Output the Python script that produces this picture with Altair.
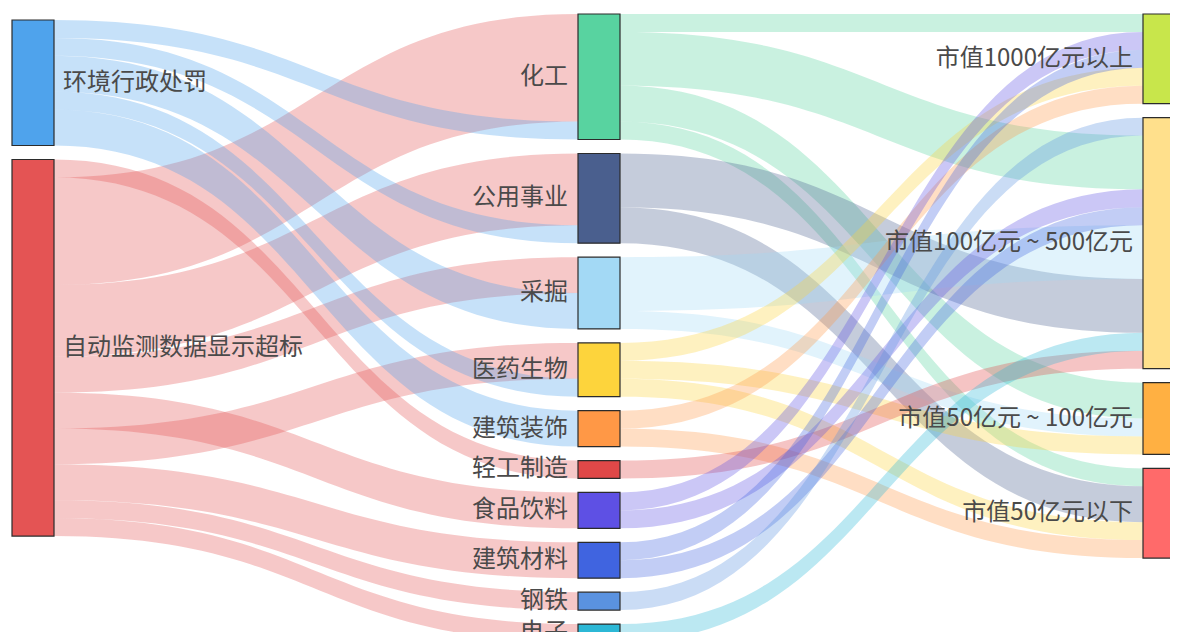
import altair as alt
import numpy as np
import pandas as pd

# ---------------- data ----------------
left_nodes = ["环境行政处罚", "自动监测数据显示超标"]
mid_nodes = ["化工", "公用事业", "采掘", "医药生物", "建筑装饰", "轻工制造",
             "食品饮料", "建筑材料", "钢铁", "电子"]
right_nodes = ["市值1000亿元以上", "市值100亿元 ~ 500亿元", "市值50亿元 ~ 100亿元", "市值50亿元以下"]

left_colors = ["#4fa3ec", "#e45454"]
mid_colors = ["#58d3a0", "#4a5f8e", "#a3d9f5", "#fdd43c", "#ff9846", "#e04848",
              "#5e50e4", "#4064e0", "#5a92e0", "#2cb8d6"]
right_colors = ["#c8e64b", "#ffe08c", "#ffb042", "#ff6a6a"]

# links (listed in the stacking order at each source node)
lm_source = ["自动监测数据显示超标"] * 9 + ["环境行政处罚"] * 5
lm_target = ["轻工制造", "化工", "公用事业", "采掘", "食品饮料", "医药生物", "建筑材料", "钢铁", "电子",
             "化工", "公用事业", "采掘", "医药生物", "建筑装饰"]
lm_value = [1, 6, 4, 2, 2, 2, 2, 1, 1,
            1, 1, 2, 1, 2]

mr_source = (["化工"] * 4 + ["公用事业"] * 2 + ["采掘"] * 2 + ["医药生物"] * 3 + ["建筑装饰"] * 2
             + ["轻工制造"] + ["食品饮料"] * 2 + ["建筑材料"] * 2 + ["钢铁"] + ["电子"])
mr_target = ["市值1000亿元以上", "市值100亿元 ~ 500亿元", "市值50亿元 ~ 100亿元", "市值50亿元以下",
             "市值100亿元 ~ 500亿元", "市值50亿元以下",
             "市值100亿元 ~ 500亿元", "市值50亿元 ~ 100亿元",
             "市值1000亿元以上", "市值50亿元 ~ 100亿元", "市值50亿元以下",
             "市值1000亿元以上", "市值50亿元以下",
             "市值100亿元 ~ 500亿元",
             "市值1000亿元以上", "市值100亿元 ~ 500亿元",
             "市值1000亿元以上", "市值100亿元 ~ 500亿元",
             "市值100亿元 ~ 500亿元",
             "市值100亿元 ~ 500亿元"]
mr_value = [1, 3, 2, 1,
            3, 2,
            3, 1,
            1, 1, 1,
            1, 1,
            1,
            1, 1,
            1, 1,
            1,
            1]

# stacking order of incoming links at each target (by source)
in_order = {n: ["自动监测数据显示超标", "环境行政处罚"] for n in mid_nodes}
in_order["市值1000亿元以上"] = ["化工", "食品饮料", "建筑材料", "医药生物", "建筑装饰"]
in_order["市值100亿元 ~ 500亿元"] = ["钢铁", "化工", "食品饮料", "建筑材料", "采掘", "公用事业", "电子", "轻工制造"]
in_order["市值50亿元 ~ 100亿元"] = ["化工", "采掘", "医药生物"]
in_order["市值50亿元以下"] = ["化工", "公用事业", "医药生物", "建筑装饰"]

# ---------------- layout (pixel space of the page) ----------------
W, H = 1162, 624
col_left = [12, 578, 1143]
col_top = [20, 14, 14]
node_w = 42
gap = 14
unit = 17.93

sources = lm_source + mr_source
targets = lm_target + mr_target
values = lm_value + mr_value
columns = [left_nodes, mid_nodes, right_nodes]
all_nodes = left_nodes + mid_nodes + right_nodes
all_colors = left_colors + mid_colors + right_colors

out_sum = {n: 0 for n in all_nodes}
in_sum = {n: 0 for n in all_nodes}
for s, t, v in zip(sources, targets, values):
    out_sum[s] += v
    in_sum[t] += v
node_val = {n: max(out_sum[n], in_sum[n]) for n in all_nodes}

node_rows = []
node_pos = {}
for ci, col in enumerate(columns):
    y = col_top[ci]
    for n in col:
        h = node_val[n] * unit
        node_pos[n] = (col_left[ci], y, h)
        node_rows.append({"node": n, "x": float(col_left[ci]), "x2": float(col_left[ci] + node_w),
                          "y": float(y), "y2": float(y + h), "ym": float(y + h / 2), "col": ci})
        y += h + gap
nodes_df = pd.DataFrame(node_rows)

out_off = {n: 0.0 for n in all_nodes}
link_src_y = []
for s, v in zip(sources, values):
    link_src_y.append(node_pos[s][1] + out_off[s] * unit)
    out_off[s] += v
link_tgt_y = [0.0] * len(sources)
for t, order in in_order.items():
    off = 0.0
    for s in order:
        for i, (ss, tt, v) in enumerate(zip(sources, targets, values)):
            if ss == s and tt == t:
                link_tgt_y[i] = node_pos[t][1] + off * unit
                off += v

rows = []
ts = np.linspace(0, 1, 48)
for i, (s, t, v) in enumerate(zip(sources, targets, values)):
    x0 = node_pos[s][0] + node_w
    x1 = node_pos[t][0]
    y0 = link_src_y[i]
    y1 = link_tgt_y[i]
    w = v * unit
    for k, tt in enumerate(ts):
        fx = 1.5 * tt - 1.5 * tt ** 2 + tt ** 3
        fy = 3 * tt ** 2 - 2 * tt ** 3
        yy = y0 + (y1 - y0) * fy
        rows.append({"link": "L%02d" % i, "lx": float(x0 + (x1 - x0) * fx),
                     "ly": float(yy), "ly2": float(yy + w), "node": s})
links_df = pd.DataFrame(rows)

xs = alt.Scale(domain=[8, 8 + W], nice=False, zero=False)
ys = alt.Scale(domain=[8, 8 + H], nice=False, zero=False, reverse=True)
cs = alt.Scale(domain=all_nodes, range=all_colors)

links = alt.Chart(links_df).mark_area(opacity=0.32).encode(
    x=alt.X("lx:Q", scale=xs, axis=None),
    y=alt.Y("ly:Q", scale=ys, axis=None),
    y2=alt.Y2("ly2"),
    detail=alt.Detail("link:N"),
    color=alt.Color("node:N", scale=cs, legend=None),
)

nodes = alt.Chart(nodes_df).mark_rect(stroke="#2b2b2b", strokeWidth=1.2, clip=True).encode(
    x=alt.X("x:Q", scale=xs, axis=None),
    x2="x2:Q",
    y=alt.Y("y:Q", scale=ys, axis=None),
    y2="y2:Q",
    color=alt.Color("node:N", scale=cs, legend=None),
)

font = "Noto Sans CJK SC"
left_lab = alt.Chart(nodes_df).transform_filter("datum.col == 0").transform_calculate(
    tx="datum.x2 + 9").mark_text(align="left", baseline="middle", font=font, fontSize=24,
                                  color="#4a4a4a").encode(
    x=alt.X("tx:Q", scale=xs, axis=None),
    y=alt.Y("ym:Q", scale=ys, axis=None),
    text="node:N",
)
right_lab = alt.Chart(nodes_df).transform_filter("datum.col > 0").transform_calculate(
    tx="datum.x - 10").mark_text(align="right", baseline="middle", font=font, fontSize=24,
                                  color="#4a4a4a").encode(
    x=alt.X("tx:Q", scale=xs, axis=None),
    y=alt.Y("ym:Q", scale=ys, axis=None),
    text="node:N",
)

chart = alt.layer(links, nodes, left_lab, right_lab).properties(
    width=W, height=H, padding=0, autosize=alt.AutoSizeParams(type="none"),
    background="white",
).configure_view(stroke=None)

chart.save("out.html", embed_options={"renderer": "svg", "actions": False})
